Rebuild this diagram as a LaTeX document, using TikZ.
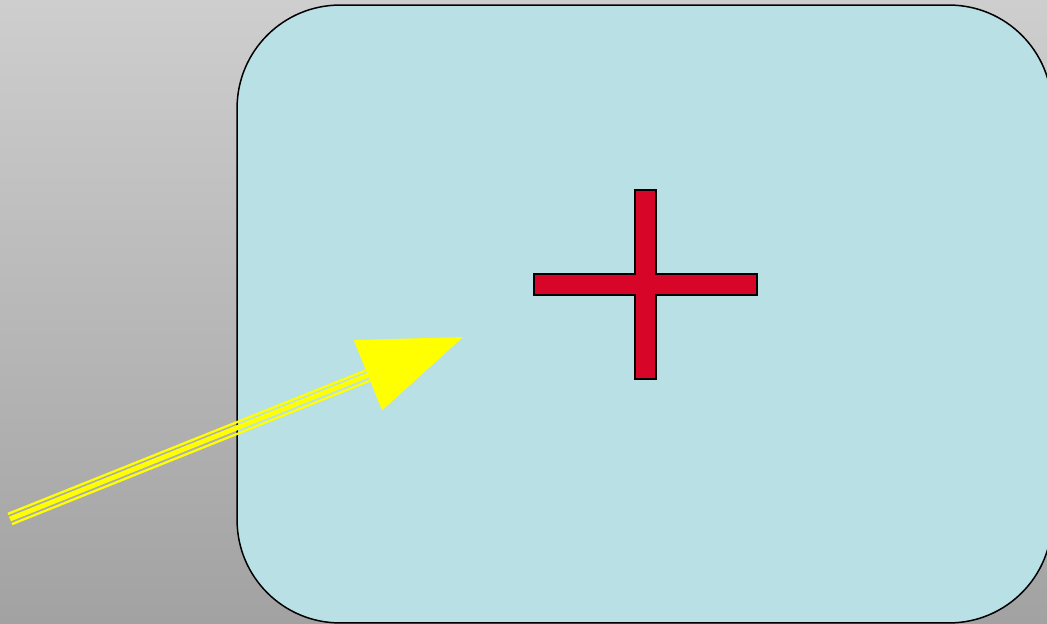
\documentclass[tikz,border=0pt]{standalone}
\usepackage{xcolor}
\usepackage{tikz}
\usetikzlibrary{arrows.meta, calc}

\definecolor{panelblue}{RGB}{185,224,228}
\definecolor{crossred}{RGB}{215,6,40}
\definecolor{arrowyellow}{RGB}{255,255,0}
\definecolor{bgtop}{RGB}{206,206,206}
\definecolor{bgbottom}{RGB}{162,162,162}

\begin{document}
\begin{tikzpicture}[
    x=0.02cm, y=-0.02cm,
    panel/.style={draw, fill=panelblue, line width=0.85pt, rounded corners=2.06cm,
        minimum width=16.3cm, minimum height=12.36cm, inner sep=0pt, outer sep=0pt},
    crossbar/.style={draw, fill=crossred, line width=0.85pt},
    shaft/.style={arrowyellow, line width=2.8pt},
    rail/.style={arrowyellow, line width=1.3pt},
    pointer/.style={shaft, -{Triangle[length=2.05cm, width=1.49cm]}}
]
\useasboundingbox (0,0) rectangle (1047,624);
\clip (0,0) rectangle (1047,624);
\shade[top color=bgtop, bottom color=bgbottom] (0,0) rectangle (1047,624);

\node[panel] (board) at (644.5,314) {};

% red plus sign
\coordinate (plus) at (645.5,284.5);
\draw[crossbar] (plus) ++(-10.5,-94.5) -- ++(21,0) -- ++(0,84) -- ++(101,0) -- ++(0,21)
    -- ++(-101,0) -- ++(0,84) -- ++(-21,0) -- ++(0,-84) -- ++(-101,0) -- ++(0,-21)
    -- ++(101,0) -- cycle;

% yellow pointer
\coordinate (tail) at (10,519);
\coordinate (tip) at (463,337);
\coordinate (base) at (368,375.5);
\draw[pointer] (tail) -- (tip);
\draw[rail] ($(tail)!0.11cm!90:(tip)$) -- ($(base)!0.11cm!-90:(tail)$);
\draw[rail] ($(tail)!0.11cm!-90:(tip)$) -- ($(base)!0.11cm!90:(tail)$);
\end{tikzpicture}
\end{document}
